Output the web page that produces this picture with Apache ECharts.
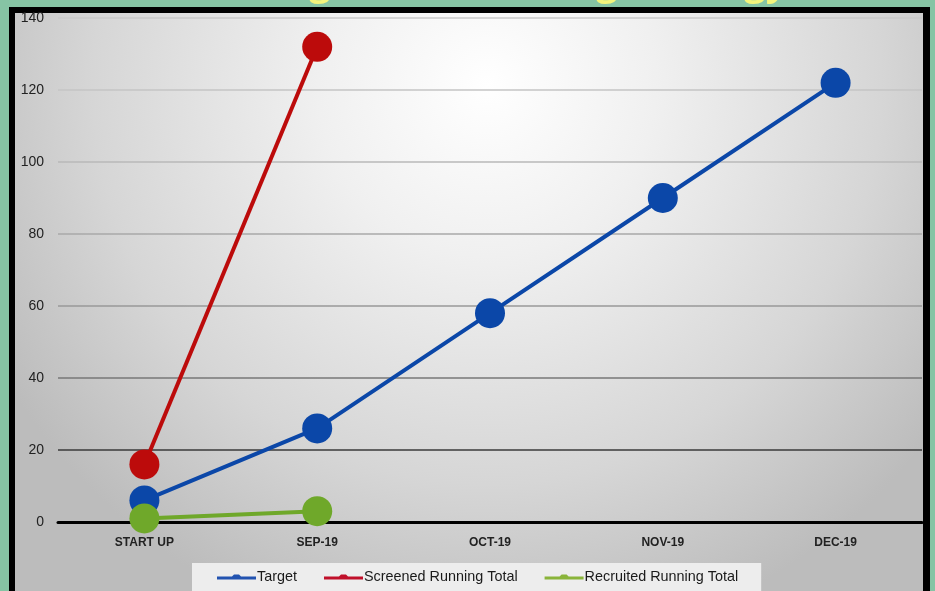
<!DOCTYPE html>
<html>
<head>
<meta charset="utf-8">
<script src="https://cdn.jsdelivr.net/npm/echarts@6/dist/echarts.min.js"></script>
<style>
  html, body { margin: 0; padding: 0; background: #86C4A4; overflow: hidden; }
  #frame {
    position: absolute; left: 9px; top: 7px; width: 908px; height: 600px;
    border-left: 6px solid #000; border-top: 6px solid #000; border-right: 7px solid #000;
    background: radial-gradient(ellipse 62% 95% at 52% 12%, #ffffff 0%, #f0f0f0 30%, #d6d6d6 70%, #bcbcbc 100%);
  }
  #chart { position: absolute; left: 0; top: 0; width: 935px; height: 591px; }
</style>
</head>
<body>
<div id="frame"></div>
<div id="chart"></div>
<script>
const titleText = 'Screening and Recruiting Strategy';
const categories = ['START UP', 'SEP-19', 'OCT-19', 'NOV-19', 'DEC-19'];
const targetValues = [6, 26, 58, 90, 122];
const screenedValues = [16, 132, null, null, null];
const recruitedValues = [1, 3, null, null, null];
const seriesNames = ['Target', 'Screened Running Total', 'Recruited Running Total'];

const chart = echarts.init(document.getElementById('chart'), null, { renderer: 'canvas' });
const iconPath = 'path://M0,4 L15,4 L17,2 L22,2 L24,4 L39,4 L39,7 L0,7 Z';
const colors = ['#0B47A8', '#BC0B0B', '#6FA82A'];
const legendColors = ['#2253B0', '#C0102A', '#8AB43A'];

function mk(i, data) {
  return {
    name: seriesNames[i], type: 'line', data: data,
    symbol: 'circle', symbolSize: 30, showSymbol: true,
    lineStyle: { color: colors[i], width: 4 },
    itemStyle: { color: colors[i] },
    emphasis: { disabled: true },
    connectNulls: false, z: 3 + (i === 2 ? 2 : i === 0 ? 1 : 0)
  };
}

chart.setOption({
  backgroundColor: 'transparent',
  animation: false,
  title: {
    text: titleText, left: 140, top: -40,
    textStyle: { color: '#F4F47C', fontSize: 38, fontWeight: 'bold', fontFamily: 'Open Sans' }
  },
  grid: { left: 58, right: 13, top: 18, bottom: 69, containLabel: false },
  legend: {
    data: seriesNames.map((n, i) => ({ name: n, icon: iconPath, itemStyle: { color: legendColors[i] } })),
    left: 192, top: 563, itemWidth: 39, itemHeight: 7, itemGap: 27,
    padding: [7, 23, 12, 25],
    backgroundColor: '#EDEDED',
    textStyle: { color: '#1a1a1a', fontSize: 14.4, fontFamily: 'Liberation Sans', padding: [0, 0, 0, -4] }
  },
  xAxis: {
    type: 'category', data: categories, boundaryGap: true,
    axisLine: { show: true, lineStyle: { color: '#000', width: 3 } },
    axisTick: { show: false },
    axisLabel: { color: '#222', fontSize: 12, fontWeight: 'bold', fontFamily: 'Liberation Sans', margin: 15 }
  },
  yAxis: {
    type: 'value', min: 0, max: 140, interval: 20,
    axisLine: { show: false }, axisTick: { show: false },
    axisLabel: { color: '#222', fontSize: 14, fontFamily: 'Liberation Sans', margin: 14 },
    splitLine: { lineStyle: { width: 1.5, color: ['#000', '#3a3a3a', '#777', '#999', '#a8a8a8', '#b8b8b8', '#c4c4c4', '#cacaca'] } }
  },
  series: [mk(0, targetValues), mk(1, screenedValues), mk(2, recruitedValues)]
});
</script>
</body>
</html>
